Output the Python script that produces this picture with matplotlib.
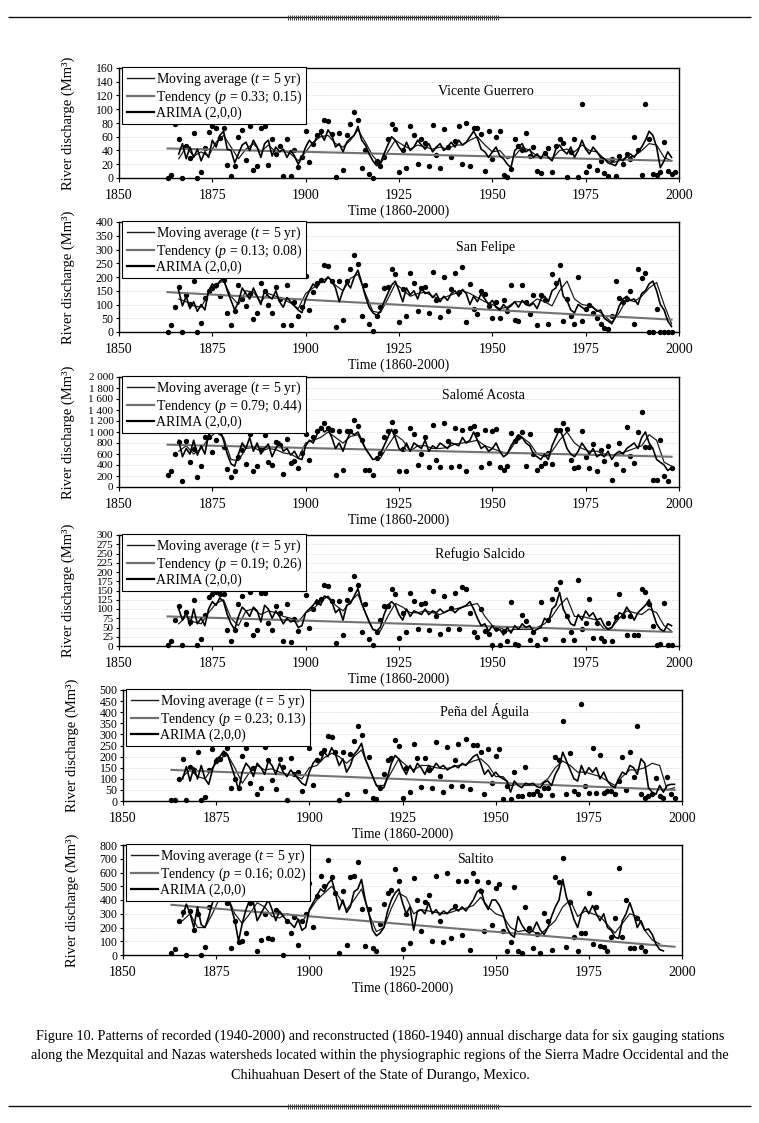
import numpy as np
import matplotlib
matplotlib.use("Agg")
import matplotlib.pyplot as plt
from matplotlib.lines import Line2D
from matplotlib.ticker import MultipleLocator, FuncFormatter

plt.rcParams['font.family'] = ['Liberation Serif', 'DejaVu Serif']
plt.rcParams['mathtext.fontset'] = 'custom'
plt.rcParams['mathtext.rm'] = 'Liberation Serif'
plt.rcParams['mathtext.it'] = 'Liberation Serif:italic'

nan = np.nan
YEARS = np.arange(1860, 2000)          # annual points (1860-1999)
MA_YEARS = np.arange(1860, 2000, 2)    # moving-average read every 2 years
TREND_YEARS = [1863, 1998]

stations = ["Vicente Guerrero", "San Felipe", "Salomé Acosta",
            "Refugio Salcido", "Peña del Águila", "Saltito"]
p_values = ["0.33; 0.15", "0.13; 0.08", "0.79; 0.44",
            "0.19; 0.26", "0.23; 0.13", "0.16; 0.02"]
y_max = [160, 400, 2000, 300, 500, 800]
y_step = [20, 50, 200, 25, 50, 100]
x_ticks = [1850, 1875, 1900, 1925, 1950, 1975, 2000]

# ---------------- Vicente Guerrero ----------------
vg_obs = [nan, nan, nan, 0, 4, 78, 56, 0, 47, 29,
          65, 0, 8, 44, 67, 75, 72, 58, 73, 19,
          3, 18, 59, 70, 26, 75, 11, 18, 73, 75,
          19, 56, 35, 46, 3, 57, 3, 40, 16, 30,
          68, 23, 50, 62, 68, 84, 83, 64, 2, 65,
          11, 62, 78, 96, 85, 15, 41, 6, 0, 25,
          18, 30, 56, 79, 71, 8, 40, 15, 75, 63,
          20, 57, 51, 18, 77, 34, 15, 71, 45, 30,
          54, 75, 21, 80, 17, 72, 72, 64, 10, 68,
          27, 60, 68, 5, 2, 13, 57, 47, 40, 66,
          32, 45, 10, 7, 36, 44, 8, 47, 56, 51,
          2, 38, 57, 2, 108, 8, 18, 60, 11, 25,
          7, 3, 27, 3, 32, 20, 35, 28, 60, 40,
          5, 108, 57, 6, 5, 8, 53, 10, 6, 8]
vg_ma = [nan, nan, nan, 28, 45, 32, 38, 32, 52, 62,
         45, 28, 42, 50, 38, 48, 38, 40, 35, 25,
         38, 52, 60, 62, 50, 45, 55, 70, 52, 32,
         20, 38, 55, 48, 42, 48, 45, 42, 45, 42,
         48, 48, 55, 60, 48, 38, 40, 28, 32, 45,
         40, 32, 30, 28, 40, 42, 38, 48, 40, 38,
         28, 22, 25, 30, 32, 40, 50, 48, 30, 25]
vg_arima = [nan, nan, nan, nan, nan, nan, 35, 50, 28, 45,
            30, 42, 25, 38, 30, 55, 45, 62, 68, 42,
            40, 22, 35, 48, 52, 40, 55, 45, 30, 50,
            55, 32, 45, 38, 42, 30, 40, 32, 20, 30,
            45, 55, 48, 60, 65, 55, 70, 62, 45, 50,
            38, 52, 58, 62, 75, 55, 48, 35, 25, 18,
            22, 35, 48, 60, 55, 45, 38, 52, 40, 45,
            55, 48, 42, 50, 38, 45, 50, 40, 45, 52,
            45, 55, 48, 52, 60, 68, 58, 42, 38, 30,
            38, 45, 32, 28, 20, 15, 40, 45, 50, 38,
            42, 30, 35, 28, 38, 30, 25, 42, 48, 40,
            35, 45, 30, 40, 55, 42, 35, 45, 38, 30,
            28, 22, 20, 18, 28, 25, 32, 35, 30, 38,
            45, 55, 68, 62, 45, 15, 25, 38, 30, nan]
vg_trend = [43, 25]

# ---------------- San Felipe ----------------
sf_obs = [nan, nan, nan, 0, 25, 90, 163, 0, 134, 101,
          187, 0, 33, 125, 150, 160, 170, 130, 190, 70,
          25, 75, 170, 120, 95, 140, 48, 68, 180, 150,
          97, 68, 165, 120, 27, 170, 25, 110, 60, 90,
          205, 80, 145, 180, 190, 245, 240, 185, 20, 185,
          45, 185, 230, 280, 248, 58, 170, 30, 5, 60,
          90, 160, 165, 230, 210, 35, 155, 60, 215, 180,
          75, 160, 165, 70, 220, 115, 55, 200, 75, 155,
          215, 145, 235, 35, 175, 85, 65, 148, 140, 95,
          50, 110, 50, 115, 75, 172, 45, 40, 170, 110,
          65, 135, 25, 135, 115, 30, 210, 180, 245, 40,
          120, 60, 30, 200, 40, 85, 100, 70, 50, 30,
          15, 10, 60, 185, 125, 110, 120, 150, 30, 230,
          195, 215, 0, 0, 85, 0, 0, 0, 0, nan]
sf_ma = [nan, nan, nan, 120, 110, 95, 90, 140, 175, 185,
         130, 100, 150, 145, 110, 140, 130, 120, 105, 85,
         140, 160, 180, 200, 170, 150, 195, 210, 140, 75,
         70, 120, 175, 155, 130, 140, 145, 130, 120, 130,
         140, 150, 140, 125, 110, 100, 85, 90, 110, 110,
         100, 120, 110, 95, 150, 185, 120, 100, 95, 80,
         60, 35, 70, 120, 110, 130, 160, 180, 100, 30]
sf_arima = [nan, nan, nan, nan, nan, nan, 150, 95, 130, 85,
            110, 75, 100, 80, 150, 175, 160, 185, 195, 150,
            115, 80, 110, 160, 140, 120, 160, 130, 100, 150,
            130, 120, 150, 110, 90, 125, 110, 95, 80, 70,
            120, 150, 175, 160, 190, 180, 200, 185, 160, 110,
            150, 180, 160, 200, 225, 180, 130, 90, 70, 60,
            75, 110, 140, 170, 185, 150, 110, 160, 135, 150,
            120, 160, 140, 145, 125, 140, 110, 130, 115, 140,
            150, 130, 155, 140, 100, 130, 110, 140, 120, 100,
            115, 90, 80, 100, 85, 95, 110, 90, 115, 100,
            95, 105, 85, 120, 130, 110, 150, 160, 195, 130,
            115, 80, 70, 100, 90, 80, 100, 90, 75, 80,
            50, 40, 30, 55, 95, 120, 130, 115, 120, 100,
            140, 150, 175, 185, 150, 100, 80, 40, 20, nan]
sf_trend = [145, 45]

# ---------------- Salomé Acosta ----------------
sa_obs = [nan, nan, nan, 220, 285, 600, 810, 107, 840, 450,
          700, 180, 390, 910, 910, 640, 850, 1000, 720, 330,
          190, 300, 550, 680, 420, 970, 285, 390, 700, 940,
          450, 405, 810, 770, 240, 875, 435, 475, 345, 620,
          960, 495, 910, 1020, 1070, 1160, 1070, 1030, 225, 1015,
          315, 1015, 1015, 1210, 1110, 855, 315, 305, 225, 520,
          610, 915, 1020, 1180, 1020, 300, 700, 300, 1075, 960,
          405, 600, 910, 355, 1120, 500, 355, 1165, 845, 370,
          1075, 375, 1035, 300, 1075, 1105, 970, 355, 1040, 445,
          1020, 1050, 355, 310, 385, 980, 830, 910, 1000, 375,
          965, 600, 315, 385, 435, 610, 410, 1030, 1040, 1160,
          1060, 495, 345, 355, 1020, 550, 345, 785, 300, 670,
          475, 740, 135, 420, 800, 310, 1095, 570, 430, 1000,
          1355, 730, 730, 135, 135, 850, 195, 105, 345, nan]
sa_ma = [nan, nan, nan, 650, 750, 600, 700, 880, 1000, 900,
         500, 480, 700, 720, 650, 700, 680, 620, 600, 520,
         800, 850, 900, 1000, 900, 800, 920, 950, 700, 500,
         520, 750, 950, 850, 650, 750, 750, 700, 700, 720,
         780, 800, 820, 850, 750, 700, 650, 600, 800, 900,
         800, 600, 550, 650, 850, 1000, 800, 700, 650, 650,
         600, 580, 600, 650, 700, 750, 950, 850, 450, 380]
sa_arima = [nan, nan, nan, nan, nan, nan, 850, 550, 700, 600,
            850, 580, 750, 600, 950, 1000, 980, 1050, 850, 600,
            420, 380, 600, 800, 700, 900, 650, 800, 600, 700,
            780, 550, 700, 820, 650, 700, 580, 650, 520, 500,
            750, 850, 800, 950, 1100, 1000, 1050, 900, 700, 800,
            650, 850, 1000, 950, 1000, 850, 700, 600, 500, 520,
            600, 750, 900, 1050, 900, 700, 650, 800, 650, 800,
            750, 700, 850, 650, 750, 700, 800, 750, 700, 800,
            780, 750, 900, 800, 850, 1000, 850, 700, 750, 650,
            700, 800, 650, 550, 600, 750, 850, 950, 900, 800,
            750, 600, 550, 500, 600, 500, 750, 900, 1050, 900,
            700, 600, 550, 650, 800, 700, 600, 700, 550, 600,
            550, 650, 500, 600, 650, 600, 700, 750, 800, 700,
            900, 1000, 800, 700, 500, 450, 400, 300, 350, nan]
sa_trend = [770, 550]

# ---------------- Refugio Salcido ----------------
rs_obs = [nan, nan, nan, 3, 13, 70, 109, 2, 91, 65,
          125, 3, 19, 83, 133, 140, 146, 140, 140, 44,
          13, 44, 113, 135, 59, 146, 30, 43, 142, 142,
          63, 43, 107, 88, 14, 113, 10, 72, 41, 155,
          138, 50, 100, 120, 127, 166, 163, 122, 9, 122,
          30, 123, 153, 188, 166, 37, 114, 18, 4, 39,
          70, 107, 109, 153, 140, 21, 90, 37, 144, 122,
          46, 113, 116, 43, 148, 82, 32, 136, 47, 104,
          144, 47, 160, 153, 88, 37, 25, 100, 41, 32,
          3, 50, 3, 40, 13, 120, 6, 3, 85, 67,
          15, 37, 3, 120, 18, 70, 126, 154, 173, 17,
          81, 39, 17, 179, 47, 63, 126, 21, 63, 21,
          14, 61, 13, 79, 140, 82, 30, 82, 30, 30,
          153, 146, 113, 53, 3, 6, 116, 3, 3, nan]
rs_ma = [nan, nan, nan, 60, 80, 65, 60, 90, 115, 125,
         75, 55, 95, 100, 85, 95, 90, 80, 75, 65,
         90, 100, 120, 135, 110, 95, 120, 140, 90, 45,
         40, 80, 115, 105, 90, 90, 95, 90, 85, 95,
         100, 105, 110, 115, 80, 55, 50, 40, 45, 45,
         45, 50, 60, 80, 110, 130, 80, 80, 75, 70,
         45, 50, 75, 95, 90, 85, 100, 90, 55, 40]
rs_arima = [nan, nan, nan, nan, nan, nan, 100, 70, 90, 55,
            100, 60, 75, 55, 100, 120, 110, 130, 120, 85,
            60, 45, 80, 105, 95, 80, 105, 95, 65, 110,
            100, 75, 95, 80, 60, 75, 65, 70, 50, 55,
            90, 100, 110, 125, 110, 135, 130, 120, 90, 100,
            70, 110, 115, 135, 155, 115, 90, 65, 45, 40,
            50, 85, 110, 120, 110, 85, 70, 100, 80, 95,
            90, 85, 100, 85, 95, 90, 100, 90, 95, 100,
            90, 100, 105, 110, 120, 100, 75, 55, 60, 40,
            55, 40, 45, 30, 50, 35, 55, 45, 60, 50,
            55, 40, 45, 50, 75, 65, 100, 110, 145, 100,
            80, 60, 55, 85, 70, 95, 80, 90, 70, 75,
            55, 45, 50, 70, 90, 85, 105, 90, 70, 90,
            100, 110, 125, 90, 60, 45, 40, 60, 55, nan]
rs_trend = [80, 38]

# ---------------- Peña del Águila ----------------
pa_obs = [nan, nan, nan, 3, 3, 100, 188, 3, 155, 138,
          222, 3, 18, 140, 234, 180, 189, 210, 240, 59,
          100, 59, 203, 238, 81, 150, 30, 59, 245, 185,
          96, 56, 188, 154, 3, 192, 120, 130, 47, 281,
          240, 71, 183, 214, 231, 293, 288, 219, 3, 222,
          30, 213, 271, 339, 296, 44, 197, 12, 7, 59,
          120, 186, 195, 277, 247, 15, 150, 41, 259, 192,
          65, 195, 138, 59, 266, 111, 41, 244, 67, 183,
          256, 67, 281, 56, 251, 251, 219, 30, 234, 83,
          204, 234, 7, 67, 7, 130, 22, 24, 151, 30,
          30, 44, 25, 59, 59, 25, 200, 185, 362, 30,
          214, 44, 30, 436, 67, 37, 237, 37, 207, 37,
          47, 47, 30, 89, 197, 50, 219, 108, 340, 30,
          12, 22, 30, 104, 22, 12, 106, 30, 12, nan]
pa_ma = [nan, nan, nan, 110, 140, 110, 100, 150, 190, 210,
         150, 80, 130, 160, 140, 145, 130, 120, 115, 100,
         150, 160, 195, 215, 200, 170, 200, 230, 150, 70,
         70, 130, 190, 160, 140, 160, 160, 150, 145, 150,
         160, 165, 180, 190, 160, 110, 110, 70, 75, 70,
         70, 75, 100, 150, 180, 160, 130, 130, 120, 110,
         90, 70, 110, 140, 140, 150, 170, 160, 50, 60]
pa_arima = [nan, nan, nan, nan, nan, nan, 100, 155, 90, 150,
            100, 160, 100, 75, 140, 190, 200, 225, 210, 160,
            110, 50, 130, 170, 150, 110, 170, 150, 120, 180,
            160, 120, 170, 130, 110, 140, 120, 100, 80, 70,
            130, 170, 190, 180, 220, 200, 240, 210, 160, 190,
            130, 160, 210, 230, 260, 190, 150, 110, 70, 55,
            60, 110, 170, 205, 190, 150, 120, 160, 130, 170,
            150, 120, 160, 140, 170, 150, 160, 140, 150, 160,
            150, 170, 160, 180, 200, 210, 170, 120, 140, 110,
            130, 110, 100, 90, 40, 90, 70, 60, 80, 75,
            80, 65, 60, 85, 90, 70, 120, 150, 220, 180,
            140, 100, 90, 160, 120, 150, 130, 150, 100, 130,
            90, 70, 60, 100, 130, 120, 160, 150, 120, 190,
            170, 60, 40, 30, 70, 40, 70, 75, 75, nan]
pa_trend = [140, 50]

# ---------------- Saltito ----------------
st_obs = [nan, nan, nan, 14, 43, 250, 311, 0, 321, 182,
          300, 0, 55, 350, 420, 470, 500, 480, 380, 50,
          250, 91, 100, 163, 380, 420, 26, 110, 300, 122,
          115, 330, 450, 0, 250, 163, 280, 74, 250, 300,
          522, 206, 430, 577, 500, 690, 570, 450, 14, 465,
          72, 565, 575, 680, 335, 67, 335, 50, 26, 225,
          369, 450, 470, 623, 539, 43, 300, 86, 558, 402,
          172, 386, 436, 105, 577, 247, 91, 599, 122, 354,
          539, 148, 539, 38, 594, 539, 465, 175, 534, 216,
          489, 517, 177, 29, 98, 498, 31, 14, 350, 200,
          50, 150, 14, 302, 249, 34, 565, 529, 709, 57,
          386, 129, 26, 158, 163, 450, 79, 350, 67, 57,
          26, 134, 268, 632, 129, 398, 48, 48, 268, 55,
          26, nan, nan, nan, nan, nan, nan, nan, nan, nan]
st_ma = [nan, nan, nan, 250, 300, 200, 200, 300, 420, 430,
         300, 230, 300, 380, 350, 280, 270, 300, 280, 240,
         320, 400, 450, 500, 420, 330, 400, 480, 300, 170,
         200, 340, 450, 420, 300, 330, 320, 310, 300, 310,
         330, 340, 360, 420, 350, 300, 280, 200, 170, 180,
         170, 150, 200, 250, 350, 400, 280, 320, 300, 280,
         220, 160, 230, 300, 280, 180, 110, 80, nan, nan]
st_arima = [nan, nan, nan, nan, nan, nan, 280, 370, 300, 200,
            350, 220, 200, 280, 380, 430, 450, 470, 420, 350,
            250, 100, 230, 330, 400, 380, 250, 300, 350, 400,
            330, 250, 320, 280, 250, 230, 200, 260, 180, 200,
            330, 380, 430, 480, 460, 520, 550, 450, 330, 400,
            310, 350, 460, 480, 550, 400, 300, 180, 140, 160,
            200, 320, 400, 450, 480, 380, 300, 350, 180, 320,
            330, 300, 380, 300, 330, 290, 320, 300, 330, 340,
            320, 350, 320, 360, 400, 460, 480, 380, 330, 400,
            400, 360, 300, 200, 150, 130, 280, 220, 180, 160,
            180, 240, 180, 150, 200, 280, 350, 400, 550, 420,
            350, 260, 200, 300, 350, 300, 360, 300, 250, 300,
            200, 180, 130, 120, 250, 300, 380, 300, 200, 250,
            180, 190, 150, 80, 40, 30, nan, nan, nan, nan]
st_trend = [365, 60]

obs_all = [vg_obs, sf_obs, sa_obs, rs_obs, pa_obs, st_obs]
ma_all = [vg_ma, sf_ma, sa_ma, rs_ma, pa_ma, st_ma]
arima_all = [vg_arima, sf_arima, sa_arima, rs_arima, pa_arima, st_arima]
trend_all = [vg_trend, sf_trend, sa_trend, rs_trend, pa_trend, st_trend]

# ---------------- layout (pixel boxes: left, top, right, bottom) ----------------
W, H = 759, 1123
boxes = [(119, 68, 679, 178), (119, 222, 679, 332), (119, 377, 679, 487),
         (119, 535, 679, 646), (123, 690, 682, 801), (123, 845, 682, 955)]
title_pos = [(0.655, 0.79), (0.655, 0.77), (0.65, 0.83),
             (0.645, 0.83), (0.647, 0.81), (0.63, 0.87)]

fig = plt.figure(figsize=(W / 100, H / 100), dpi=100)
fig.patch.set_facecolor('white')

# decorative page rules
deco = fig.add_axes([0, 0, 1, 1])
deco.set_xlim(0, W)
deco.set_ylim(H, 0)
deco.axis('off')
for yy in (17, 1106):
    deco.hlines(yy, 8, 751, color='#111111', lw=1.0)
    deco.vlines(np.arange(288, 500, 2.0), yy - 2.5, yy + 2.5, color='#444444', lw=0.7)

MA_COLOR = '#1c1c1c'
TR_COLOR = '#727272'

def thousands(v, pos):
    return f"{int(round(v)):,}".replace(",", " ")

for i in range(6):
    l, t, r, b = boxes[i]
    ax = fig.add_axes([l / W, 1 - b / H, (r - l) / W, (b - t) / H])
    ax.set_xlim(1850, 2000)
    ax.set_ylim(0, y_max[i])

    ax.scatter(YEARS, obs_all[i], s=15, color='black', linewidths=0,
               zorder=3, clip_on=False)
    ax.plot(MA_YEARS, ma_all[i], color=MA_COLOR, lw=0.9, zorder=4)
    ax.plot(TREND_YEARS, trend_all[i], color=TR_COLOR, lw=1.5, zorder=4)
    ax.plot(YEARS, arima_all[i], color='black', lw=1.2, zorder=5)

    ax.set_xticks(x_ticks)
    ax.yaxis.set_major_locator(MultipleLocator(y_step[i]))
    if y_max[i] >= 1000:
        ax.yaxis.set_major_formatter(FuncFormatter(thousands))
    ax.yaxis.grid(True, linestyle=(0, (1, 2)), color='#c8c8c8', lw=0.6)
    ax.set_axisbelow(True)
    ax.tick_params(axis='x', labelsize=10, length=3, direction='out', pad=5, width=0.8)
    ylab = 8.5 if y_max[i] not in (2000, 300) else 8
    ax.tick_params(axis='y', labelsize=ylab, length=2.5, direction='out', pad=1.5, width=0.8)
    for s in ax.spines.values():
        s.set_linewidth(1.0)
        s.set_color('black')

    ax.set_xlabel('Time (1860-2000)', fontsize=10, labelpad=2)
    ax.set_ylabel('River discharge (Mm³)', fontsize=10.5)
    ax.yaxis.set_label_coords(-0.078, 0.5)

    ax.text(title_pos[i][0], title_pos[i][1], stations[i], transform=ax.transAxes,
            ha='center', va='center', fontsize=10)

    handles = [Line2D([], [], color=MA_COLOR, lw=1.0),
               Line2D([], [], color=TR_COLOR, lw=1.6),
               Line2D([], [], color='black', lw=1.6)]
    labels = ['Moving average ($t$ = 5 yr)',
              f'Tendency ($p$ = {p_values[i]})',
              'ARIMA (2,0,0)']
    leg = ax.legend(handles, labels, loc='upper left', bbox_to_anchor=(0.006, 1.01),
                    fontsize=10, frameon=True, fancybox=False, edgecolor='black',
                    framealpha=1, borderpad=0.3, labelspacing=0.02,
                    handlelength=2.0, handletextpad=0.1, borderaxespad=0)
    leg.get_frame().set_linewidth(0.8)
    leg.set_zorder(10)

caption = ["Figure 10. Patterns of recorded (1940-2000) and reconstructed (1860-1940) annual discharge data for six gauging stations",
           "along the Mezquital and Nazas watersheds located within the physiographic regions of the Sierra Madre Occidental and the",
           "Chihuahuan Desert of the State of Durango, Mexico."]
for k, line in enumerate(caption):
    fig.text(380 / W, 1 - (1036 + 19.5 * k) / H, line, ha='center', va='center',
             fontsize=10.2)

fig.savefig('out.png', dpi=100, facecolor='white')
